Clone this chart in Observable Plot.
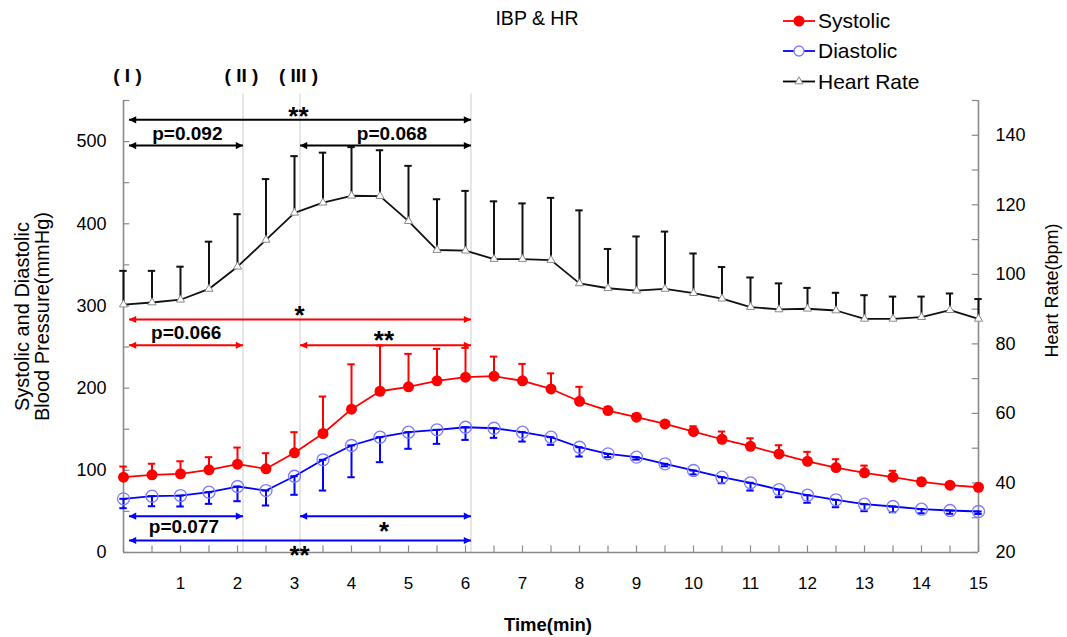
<!DOCTYPE html>
<html>
<head>
<meta charset="utf-8">
<script src="https://cdn.jsdelivr.net/npm/d3@7"></script>
<script src="https://cdn.jsdelivr.net/npm/@observablehq/plot@0.6"></script>
<style>
  html, body { margin: 0; padding: 0; background: #fff; }
</style>
</head>
<body>
<div id="chart"></div>
<script>
// Sampling times (min)
const minutes = [0, 0.5, 1, 1.5, 2, 2.5, 3, 3.5, 4, 4.5, 5, 5.5, 6, 6.5, 7, 7.5, 8, 8.5, 9, 9.5, 10, 10.5, 11, 11.5, 12, 12.5, 13, 13.5, 14, 14.5, 15];

// Invasive blood pressure (mmHg), mean and SD
const systolic = [91.6, 94.5, 95.7, 100.6, 107.5, 101.8, 121.3, 144.8, 174.4, 196.2, 201.6, 208.9, 213.3, 214.5, 208.9, 199.0, 184.0, 172.7, 164.6, 156.5, 147.2, 137.8, 129.3, 120.0, 111.0, 103.4, 97.0, 91.6, 86.0, 81.9, 79.4];
const systolicSD = [13, 13.5, 15.3, 15.4, 20.2, 19, 25.1, 45, 54.6, 55.6, 40.1, 38.9, 35.7, 23.9, 20.6, 19, 17.6, 4, 4, 3, 6.4, 9.4, 9.7, 10.5, 11.5, 10.1, 8.8, 7.8, 4.4, 2.4, 1];
const diastolic = [65.3, 68.5, 69.3, 73.4, 80.3, 75.4, 92.8, 112.8, 130.2, 140.3, 146.4, 149.3, 152.4, 151.2, 146.4, 140.3, 128.1, 120.0, 116.0, 107.9, 99.8, 91.6, 84.8, 76.6, 69.7, 64.1, 58.8, 56.0, 52.7, 51.1, 49.9];
const diastolicSD = [11.4, 12.2, 13.3, 14.2, 17.9, 18.2, 22.6, 37.4, 38.6, 30.4, 20.2, 17.1, 15.4, 11.7, 11.4, 9.3, 11.3, 4, 3, 3, 4.8, 7.3, 9.4, 9.3, 9.2, 9, 8.5, 7, 5, 4, 3];

// Heart rate (bpm), mean and SD
const heartRate = [91.3, 91.9, 92.7, 95.8, 102.2, 109.9, 117.7, 120.6, 122.6, 122.5, 115.3, 107.0, 106.8, 104.4, 104.4, 104.1, 97.4, 96.0, 95.3, 95.8, 94.6, 93.0, 90.6, 89.9, 90.1, 89.6, 87.2, 87.2, 87.7, 89.7, 87.2];
const heartRateSD = [9.7, 9.1, 9.5, 13.6, 15.1, 17.5, 16.3, 14.4, 14.0, 13.2, 15.9, 14.6, 17.2, 16.6, 16.0, 17.9, 21.0, 11.3, 15.6, 16.5, 11.4, 9.1, 8.5, 7.5, 6.0, 5.1, 6.8, 6.4, 5.9, 4.8, 5.7];

const seriesNames = ["Systolic", "Diastolic", "Heart Rate"];

// Axis ticks
const bpTicks = [0, 100, 200, 300, 400, 500];
const bpMinorTicks = [0, 50, 100, 150, 200, 250, 300, 350, 400, 450, 500, 550];
const hrTicks = [20, 40, 60, 80, 100, 120, 140];
const hrMinorTicks = [20, 30, 40, 50, 60, 70, 80, 90, 100, 110, 120, 130, 140, 150];
const timeTicks = [1, 2, 3, 4, 5, 6, 7, 8, 9, 10, 11, 12, 13, 14, 15];

// Protocol phases
const phaseNames = ["( I )", "( II )", "( III )"];
const phaseStarts = [0, 2, 3];
const phaseBounds = [2, 3, 6];

// Significance comparisons between phases
const compareFrom = [0, 0, 3, 0, 0, 3, 0, 3, 0];
const compareTo = [6, 2, 6, 6, 2, 6, 2, 6, 6];
const compareSeries = ["Heart Rate", "Heart Rate", "Heart Rate", "Systolic", "Systolic", "Systolic", "Diastolic", "Diastolic", "Diastolic"];
const compareLabel = ["**", "p=0.092", "p=0.068", "*", "p=0.066", "**", "p=0.077", "*", "**"];

// ---- layout of the comparison brackets (left-axis units / minutes) ----
const bracketLevel = [526.5, 495.2, 495.2, 283.5, 252.2, 252.2, 44.2, 44.2, 14.6];
const labelTime = [3.07, 1.12, 4.71, 3.09, 1.10, 4.57, 1.06, 4.57, 3.09];
const labelLevel = [529.8, 509.8, 509.8, 288.5, 267.3, 257.2, 30.8, 24.8, -3.5];

// Two value axes: blood pressure on the left, heart rate on the right
const BP_MAX = 550, HR_MIN = 20, HR_MAX = 150;
const hrToBP = h => (h - HR_MIN) * BP_MAX / (HR_MAX - HR_MIN);

const colorOf = {"Systolic": "#ff0000", "Diastolic": "#0000ff", "Heart Rate": "#000000"};
const font = "'Liberation Sans', Arial, Helvetica, sans-serif";
const axisGray = "#8a8a8a";
const capHalf = 0.065;   // half width of error-bar caps, in minutes
const tickLen = 0.11;    // inward axis tick length, in minutes
const shift = 5.5;       // phase marker offset, px

const rows = minutes.map((t, i) => ({
  t,
  sys: systolic[i],
  sysTop: systolic[i] + systolicSD[i],
  dia: diastolic[i],
  diaLow: diastolic[i] - diastolicSD[i],
  hr: hrToBP(heartRate[i]),
  hrTop: hrToBP(heartRate[i] + heartRateSD[i])
}));

const brackets = compareLabel.map((label, i) => ({
  from: compareFrom[i],
  to: compareTo[i],
  color: colorOf[compareSeries[i]],
  label,
  level: bracketLevel[i],
  lt: labelTime[i],
  ll: labelLevel[i],
  star: label.startsWith("*")
}));

// Arrowhead symbols with their tip at the origin
const headRight = {draw(ctx, size) { const s = Math.sqrt(size / Math.PI) * 2.4; ctx.moveTo(0, 0); ctx.lineTo(-s, -s / 2); ctx.lineTo(-s, s / 2); ctx.closePath(); }};
const headLeft = {draw(ctx, size) { const s = Math.sqrt(size / Math.PI) * 2.4; ctx.moveTo(0, 0); ctx.lineTo(s, -s / 2); ctx.lineTo(s, s / 2); ctx.closePath(); }};

const errorBars = (y1, y2, color, width) =>
  Plot.ruleX(rows, {x: "t", y1, y2, stroke: color, strokeWidth: width});
const caps = (y, color, width) =>
  Plot.ruleY(rows, {y, x1: d => d.t - capHalf, x2: d => d.t + capHalf, stroke: color, strokeWidth: width});

const chart = Plot.plot({
  width: 1067,
  height: 637,
  marginTop: 100,
  marginBottom: 85,
  marginLeft: 123,
  marginRight: 89,
  x: {domain: [0, 15], axis: null},
  y: {domain: [0, BP_MAX], axis: null},
  color: {type: "identity"},
  style: {fontFamily: font, background: "#fff", color: "#000"},
  marks: [
    // phase boundaries
    Plot.ruleX(phaseBounds, {y1: 0, y2: 558, stroke: "#cdcdcd", strokeWidth: 1, dx: shift}),

    // axis frame and inward ticks
    Plot.ruleX([0], {y1: 0, y2: BP_MAX, stroke: axisGray, strokeWidth: 1.6}),
    Plot.ruleX([15], {y1: 0, y2: BP_MAX, stroke: axisGray, strokeWidth: 1.6}),
    Plot.ruleY([0], {x1: 0, x2: 15, stroke: axisGray, strokeWidth: 1.6}),
    Plot.ruleY(bpMinorTicks, {x1: 0, x2: tickLen, stroke: axisGray, strokeWidth: 1.2}),
    Plot.ruleY(hrMinorTicks, {y: hrToBP, x1: 15 - tickLen, x2: 15, stroke: axisGray, strokeWidth: 1.2}),
    Plot.ruleX(minutes, {y1: 0, y2: 8, stroke: axisGray, strokeWidth: 1.2}),

    // tick labels
    Plot.text(bpTicks, {x: 0, y: d => d, text: d => String(d), dx: -17, textAnchor: "end", fontSize: 18}),
    Plot.text(hrTicks, {x: 15, y: hrToBP, text: d => String(d), dx: 17, textAnchor: "start", fontSize: 18}),
    Plot.text(timeTicks, {x: d => d, y: 0, text: d => String(d), dy: 31, fontSize: 17}),

    // axis titles and chart title
    Plot.text(["Systolic and Diastolic\nBlood Pressure(mmHg)"], {frameAnchor: "left", textAnchor: "middle", lineAnchor: "middle", rotate: -90, dx: -91, dy: -10, fontSize: 20, lineHeight: 1.0}),
    Plot.text(["Heart Rate(bpm)"], {frameAnchor: "right", textAnchor: "middle", lineAnchor: "middle", rotate: -90, dx: 74, dy: -36, fontSize: 18}),
    Plot.text(["Time(min)"], {frameAnchor: "bottom", lineAnchor: "middle", dx: -3, dy: 73, fontSize: 18.5, fontWeight: "bold"}),
    Plot.text(["IBP & HR"], {frameAnchor: "top", lineAnchor: "middle", dx: -14, dy: -82, fontSize: 19.5}),

    // phase labels
    Plot.text(phaseNames, {x: (d, i) => phaseStarts[i], frameAnchor: "top", lineAnchor: "middle", dy: -25, dx: 4, fontSize: 19, fontWeight: "bold"}),

    // heart rate (right axis)
    errorBars("hr", "hrTop", "#111", 2),
    caps("hrTop", "#111", 2),
    Plot.line(rows, {x: "t", y: "hr", stroke: "#111", strokeWidth: 1.8}),
    Plot.dot(rows, {x: "t", y: "hr", symbol: "triangle", r: 3, stroke: "#8a8a8a", fill: "#fff", strokeWidth: 1}),

    // systolic
    errorBars("sys", "sysTop", "#ff0000", 2),
    caps("sysTop", "#ff0000", 2),
    Plot.line(rows, {x: "t", y: "sys", stroke: "#ff0000", strokeWidth: 1.8}),
    Plot.dot(rows, {x: "t", y: "sys", r: 5.5, fill: "#ff0000", stroke: "none"}),

    // diastolic
    errorBars("diaLow", "dia", "#0000ff", 2),
    caps("diaLow", "#0000ff", 2),
    caps("dia", "#0000ff", 2),
    Plot.line(rows, {x: "t", y: "dia", stroke: "#0000ff", strokeWidth: 1.8}),
    Plot.dot(rows, {x: "t", y: "dia", r: 6, fill: "none", stroke: "#7c7cff", strokeWidth: 1.3}),

    // comparison brackets
    Plot.link(brackets, {x1: "from", x2: "to", y1: "level", y2: "level", stroke: "color", strokeWidth: 2, dx: shift}),
    Plot.dot(brackets, {x: "to", y: "level", symbol: headRight, r: 3, fill: "color", stroke: "none", dx: shift}),
    Plot.dot(brackets, {x: "from", y: "level", symbol: headLeft, r: 3, fill: "color", stroke: "none", dx: shift}),
    Plot.text(brackets.filter(d => !d.star), {x: "lt", y: "ll", text: "label", fontSize: 19, fontWeight: "bold", fill: "#000"}),
    Plot.text(brackets.filter(d => d.star), {x: "lt", y: "ll", text: "label", fontSize: 26, fontWeight: "bold", fill: "#000"})
  ]
});

// Legend (top right)
const svg = d3.select(chart);
const legend = svg.append("g").attr("font-family", font).attr("font-size", 21).attr("text-anchor", "start");
const rowY = [21, 51, 81.5];
seriesNames.forEach((name, i) => {
  const g = legend.append("g").attr("transform", `translate(783,${rowY[i]})`);
  g.append("line").attr("x1", 0).attr("x2", 32).attr("stroke", colorOf[name]).attr("stroke-width", 1.8);
  if (name === "Systolic") {
    g.append("circle").attr("cx", 16).attr("r", 5.5).attr("fill", "#ff0000");
  } else if (name === "Diastolic") {
    g.append("circle").attr("cx", 16).attr("r", 5).attr("fill", "#fff").attr("stroke", "#7c7cff").attr("stroke-width", 1.3);
  } else {
    g.append("path").attr("transform", "translate(16,0)").attr("d", d3.symbol(d3.symbolTriangle, Math.PI * 3 * 3)())
      .attr("fill", "#fff").attr("stroke", "#8a8a8a");
  }
  g.append("text").attr("x", 35).attr("dy", "0.35em").attr("fill", "#000").text(name);
});

document.getElementById("chart").appendChild(chart);
</script>
</body>
</html>
